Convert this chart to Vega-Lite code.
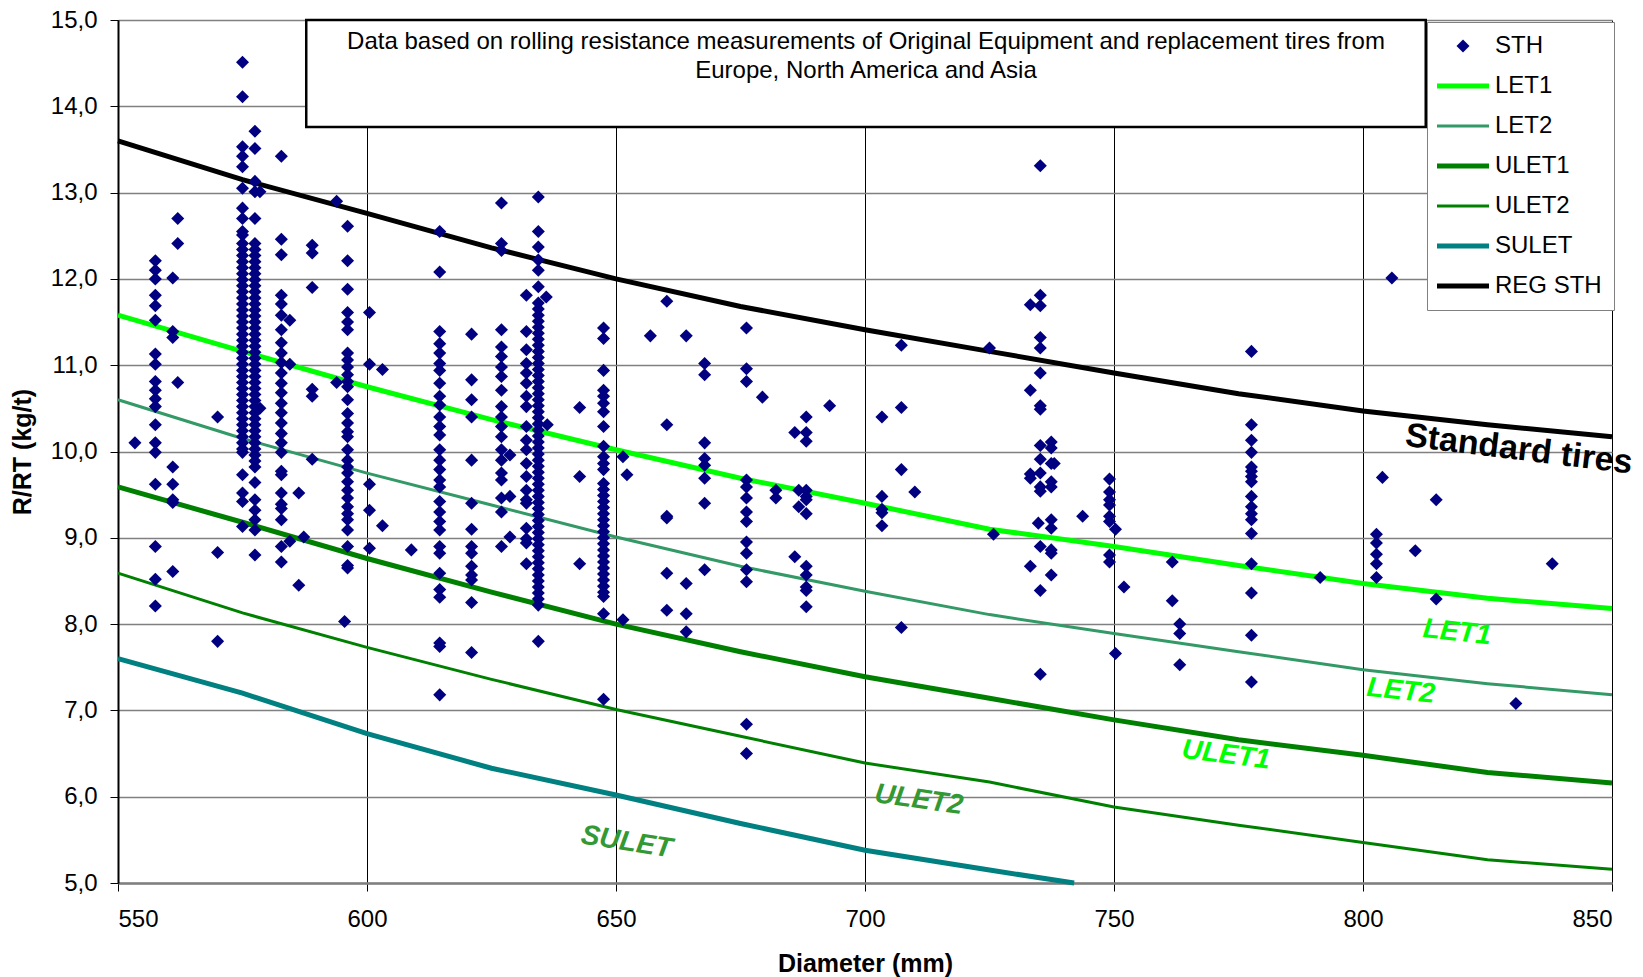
{
"$schema": "https://vega.github.io/schema/vega-lite/v6.json",
"width": 1494, "height": 863,
"autosize": {"type": "none"},
"padding": {"left": 118, "top": 20, "right": 31, "bottom": 94},
"background": "white",
"config": {"view": {"stroke": null}, "font": "Liberation Sans"},
"datasets": {
"pts": [
{"s":"STH","d":557.5,"v":12.21},{"s":"STH","d":557.5,"v":12.10},{"s":"STH","d":557.5,"v":12.00},{"s":"STH","d":557.5,"v":11.81},{"s":"STH","d":557.5,"v":11.69},{"s":"STH","d":557.5,"v":11.52},{"s":"STH","d":557.5,"v":11.13},{"s":"STH","d":557.5,"v":11.01},{"s":"STH","d":557.5,"v":10.81},{"s":"STH","d":557.5,"v":10.71},{"s":"STH","d":557.5,"v":10.61},{"s":"STH","d":557.5,"v":10.52},{"s":"STH","d":557.5,"v":10.31},{"s":"STH","d":557.5,"v":10.10},{"s":"STH","d":557.5,"v":9.99},{"s":"STH","d":557.5,"v":9.62},{"s":"STH","d":557.5,"v":8.90},{"s":"STH","d":557.5,"v":8.52},{"s":"STH","d":557.5,"v":8.21},
{"s":"STH","d":553.4,"v":10.10},
{"s":"STH","d":561,"v":12.01},{"s":"STH","d":561,"v":11.39},{"s":"STH","d":561,"v":11.32},{"s":"STH","d":561,"v":9.82},{"s":"STH","d":561,"v":9.62},{"s":"STH","d":561,"v":9.44},{"s":"STH","d":561,"v":9.41},{"s":"STH","d":561,"v":8.61},
{"s":"STH","d":562,"v":12.70},{"s":"STH","d":562,"v":12.41},{"s":"STH","d":562,"v":10.80},
{"s":"STH","d":570,"v":10.40},{"s":"STH","d":570,"v":8.83},{"s":"STH","d":570,"v":7.80},
{"s":"STH","d":575,"v":14.51},{"s":"STH","d":575,"v":14.11},{"s":"STH","d":575,"v":13.53},{"s":"STH","d":575,"v":13.42},{"s":"STH","d":575,"v":13.30},{"s":"STH","d":575,"v":13.05},{"s":"STH","d":575,"v":12.82},{"s":"STH","d":575,"v":12.70},{"s":"STH","d":575,"v":12.55},{"s":"STH","d":575,"v":12.51},{"s":"STH","d":575,"v":12.41},{"s":"STH","d":575,"v":12.34},{"s":"STH","d":575,"v":12.27},{"s":"STH","d":575,"v":12.20},{"s":"STH","d":575,"v":12.13},{"s":"STH","d":575,"v":12.06},{"s":"STH","d":575,"v":11.99},{"s":"STH","d":575,"v":11.92},{"s":"STH","d":575,"v":11.85},{"s":"STH","d":575,"v":11.78},{"s":"STH","d":575,"v":11.71},{"s":"STH","d":575,"v":11.64},{"s":"STH","d":575,"v":11.57},{"s":"STH","d":575,"v":11.50},{"s":"STH","d":575,"v":11.43},{"s":"STH","d":575,"v":11.36},{"s":"STH","d":575,"v":11.29},{"s":"STH","d":575,"v":11.22},{"s":"STH","d":575,"v":11.15},{"s":"STH","d":575,"v":11.08},{"s":"STH","d":575,"v":11.01},{"s":"STH","d":575,"v":10.94},{"s":"STH","d":575,"v":10.87},{"s":"STH","d":575,"v":10.80},{"s":"STH","d":575,"v":10.73},{"s":"STH","d":575,"v":10.66},{"s":"STH","d":575,"v":10.59},{"s":"STH","d":575,"v":10.52},{"s":"STH","d":575,"v":10.45},{"s":"STH","d":575,"v":10.38},{"s":"STH","d":575,"v":10.31},{"s":"STH","d":575,"v":10.24},{"s":"STH","d":575,"v":10.17},{"s":"STH","d":575,"v":10.10},{"s":"STH","d":575,"v":10.03},{"s":"STH","d":575,"v":9.99},{"s":"STH","d":575,"v":9.73},{"s":"STH","d":575,"v":9.52},{"s":"STH","d":575,"v":9.42},{"s":"STH","d":575,"v":9.13},
{"s":"STH","d":577.5,"v":13.71},{"s":"STH","d":577.5,"v":13.51},{"s":"STH","d":577.5,"v":13.13},{"s":"STH","d":577.5,"v":13.01},{"s":"STH","d":577.5,"v":12.70},{"s":"STH","d":577.5,"v":12.41},{"s":"STH","d":577.5,"v":12.34},{"s":"STH","d":577.5,"v":12.27},{"s":"STH","d":577.5,"v":12.20},{"s":"STH","d":577.5,"v":12.13},{"s":"STH","d":577.5,"v":12.06},{"s":"STH","d":577.5,"v":11.99},{"s":"STH","d":577.5,"v":11.92},{"s":"STH","d":577.5,"v":11.85},{"s":"STH","d":577.5,"v":11.78},{"s":"STH","d":577.5,"v":11.71},{"s":"STH","d":577.5,"v":11.64},{"s":"STH","d":577.5,"v":11.57},{"s":"STH","d":577.5,"v":11.50},{"s":"STH","d":577.5,"v":11.43},{"s":"STH","d":577.5,"v":11.36},{"s":"STH","d":577.5,"v":11.29},{"s":"STH","d":577.5,"v":11.22},{"s":"STH","d":577.5,"v":11.15},{"s":"STH","d":577.5,"v":11.08},{"s":"STH","d":577.5,"v":11.01},{"s":"STH","d":577.5,"v":10.94},{"s":"STH","d":577.5,"v":10.87},{"s":"STH","d":577.5,"v":10.80},{"s":"STH","d":577.5,"v":10.73},{"s":"STH","d":577.5,"v":10.66},{"s":"STH","d":577.5,"v":10.59},{"s":"STH","d":577.5,"v":10.52},{"s":"STH","d":577.5,"v":10.45},{"s":"STH","d":577.5,"v":10.38},{"s":"STH","d":577.5,"v":10.31},{"s":"STH","d":577.5,"v":10.24},{"s":"STH","d":577.5,"v":10.17},{"s":"STH","d":577.5,"v":10.10},{"s":"STH","d":577.5,"v":10.03},{"s":"STH","d":577.5,"v":9.96},{"s":"STH","d":577.5,"v":9.89},{"s":"STH","d":577.5,"v":9.82},{"s":"STH","d":577.5,"v":9.64},{"s":"STH","d":577.5,"v":9.44},{"s":"STH","d":577.5,"v":9.32},{"s":"STH","d":577.5,"v":9.21},{"s":"STH","d":577.5,"v":9.09},{"s":"STH","d":577.5,"v":8.80},
{"s":"STH","d":578.5,"v":13.01},{"s":"STH","d":578.5,"v":10.50},
{"s":"STH","d":582.8,"v":13.42},{"s":"STH","d":582.8,"v":12.46},{"s":"STH","d":582.8,"v":12.28},{"s":"STH","d":582.8,"v":11.81},{"s":"STH","d":582.8,"v":11.71},{"s":"STH","d":582.8,"v":11.58},{"s":"STH","d":582.8,"v":11.41},{"s":"STH","d":582.8,"v":11.26},{"s":"STH","d":582.8,"v":11.14},{"s":"STH","d":582.8,"v":11.03},{"s":"STH","d":582.8,"v":10.91},{"s":"STH","d":582.8,"v":10.79},{"s":"STH","d":582.8,"v":10.68},{"s":"STH","d":582.8,"v":10.56},{"s":"STH","d":582.8,"v":10.45},{"s":"STH","d":582.8,"v":10.33},{"s":"STH","d":582.8,"v":10.21},{"s":"STH","d":582.8,"v":10.10},{"s":"STH","d":582.8,"v":9.99},{"s":"STH","d":582.8,"v":9.77},{"s":"STH","d":582.8,"v":9.73},{"s":"STH","d":582.8,"v":9.52},{"s":"STH","d":582.8,"v":9.39},{"s":"STH","d":582.8,"v":9.34},{"s":"STH","d":582.8,"v":9.21},{"s":"STH","d":582.8,"v":8.90},{"s":"STH","d":582.8,"v":8.72},
{"s":"STH","d":584.5,"v":11.52},{"s":"STH","d":584.5,"v":11.01},{"s":"STH","d":584.5,"v":8.96},
{"s":"STH","d":586.3,"v":9.52},{"s":"STH","d":586.3,"v":8.45},{"s":"STH","d":587.3,"v":9.01},
{"s":"STH","d":589,"v":12.39},{"s":"STH","d":589,"v":12.30},{"s":"STH","d":589,"v":11.90},{"s":"STH","d":589,"v":10.72},{"s":"STH","d":589,"v":10.64},{"s":"STH","d":589,"v":9.91},
{"s":"STH","d":593.9,"v":12.90},{"s":"STH","d":593.9,"v":10.80},
{"s":"STH","d":596.1,"v":12.61},{"s":"STH","d":596.1,"v":12.21},{"s":"STH","d":596.1,"v":11.88},{"s":"STH","d":596.1,"v":11.61},{"s":"STH","d":596.1,"v":11.50},{"s":"STH","d":596.1,"v":11.41},{"s":"STH","d":596.1,"v":11.14},{"s":"STH","d":596.1,"v":11.06},{"s":"STH","d":596.1,"v":10.98},{"s":"STH","d":596.1,"v":10.89},{"s":"STH","d":596.1,"v":10.81},{"s":"STH","d":596.1,"v":10.75},{"s":"STH","d":596.1,"v":10.60},{"s":"STH","d":596.1,"v":10.44},{"s":"STH","d":596.1,"v":10.33},{"s":"STH","d":596.1,"v":10.23},{"s":"STH","d":596.1,"v":10.17},{"s":"STH","d":596.1,"v":10.02},{"s":"STH","d":596.1,"v":9.90},{"s":"STH","d":596.1,"v":9.82},{"s":"STH","d":596.1,"v":9.75},{"s":"STH","d":596.1,"v":9.65},{"s":"STH","d":596.1,"v":9.55},{"s":"STH","d":596.1,"v":9.46},{"s":"STH","d":596.1,"v":9.36},{"s":"STH","d":596.1,"v":9.28},{"s":"STH","d":596.1,"v":9.21},{"s":"STH","d":596.1,"v":9.09},{"s":"STH","d":596.1,"v":8.90},{"s":"STH","d":596.1,"v":8.68},{"s":"STH","d":596.1,"v":8.65},
{"s":"STH","d":595.5,"v":8.03},
{"s":"STH","d":600.5,"v":11.61},{"s":"STH","d":600.5,"v":11.01},{"s":"STH","d":600.5,"v":9.62},{"s":"STH","d":600.5,"v":9.32},{"s":"STH","d":600.5,"v":8.88},
{"s":"STH","d":603.1,"v":10.95},{"s":"STH","d":603.1,"v":9.14},{"s":"STH","d":608.9,"v":8.86},
{"s":"STH","d":614.6,"v":12.55},{"s":"STH","d":614.6,"v":12.08},{"s":"STH","d":614.6,"v":11.39},{"s":"STH","d":614.6,"v":11.25},{"s":"STH","d":614.6,"v":11.14},{"s":"STH","d":614.6,"v":11.02},{"s":"STH","d":614.6,"v":10.94},{"s":"STH","d":614.6,"v":10.79},{"s":"STH","d":614.6,"v":10.64},{"s":"STH","d":614.6,"v":10.54},{"s":"STH","d":614.6,"v":10.40},{"s":"STH","d":614.6,"v":10.29},{"s":"STH","d":614.6,"v":10.19},{"s":"STH","d":614.6,"v":10.02},{"s":"STH","d":614.6,"v":9.90},{"s":"STH","d":614.6,"v":9.79},{"s":"STH","d":614.6,"v":9.67},{"s":"STH","d":614.6,"v":9.59},{"s":"STH","d":614.6,"v":9.42},{"s":"STH","d":614.6,"v":9.30},{"s":"STH","d":614.6,"v":9.19},{"s":"STH","d":614.6,"v":9.09},{"s":"STH","d":614.6,"v":8.90},{"s":"STH","d":614.6,"v":8.82},{"s":"STH","d":614.6,"v":8.59},{"s":"STH","d":614.6,"v":8.40},{"s":"STH","d":614.6,"v":8.31},{"s":"STH","d":614.6,"v":7.78},{"s":"STH","d":614.6,"v":7.74},{"s":"STH","d":614.6,"v":7.18},
{"s":"STH","d":621,"v":11.36},{"s":"STH","d":621,"v":10.83},{"s":"STH","d":621,"v":10.60},{"s":"STH","d":621,"v":10.40},{"s":"STH","d":621,"v":9.90},{"s":"STH","d":621,"v":9.40},{"s":"STH","d":621,"v":9.10},{"s":"STH","d":621,"v":8.90},{"s":"STH","d":621,"v":8.82},{"s":"STH","d":621,"v":8.67},{"s":"STH","d":621,"v":8.57},{"s":"STH","d":621,"v":8.51},{"s":"STH","d":621,"v":8.25},{"s":"STH","d":621,"v":7.67},
{"s":"STH","d":627,"v":12.88},{"s":"STH","d":627,"v":12.41},{"s":"STH","d":627,"v":12.33},{"s":"STH","d":627,"v":11.41},{"s":"STH","d":627,"v":11.21},{"s":"STH","d":627,"v":11.10},{"s":"STH","d":627,"v":10.98},{"s":"STH","d":627,"v":10.87},{"s":"STH","d":627,"v":10.71},{"s":"STH","d":627,"v":10.52},{"s":"STH","d":627,"v":10.40},{"s":"STH","d":627,"v":10.29},{"s":"STH","d":627,"v":10.17},{"s":"STH","d":627,"v":10.02},{"s":"STH","d":627,"v":9.90},{"s":"STH","d":627,"v":9.75},{"s":"STH","d":627,"v":9.67},{"s":"STH","d":627,"v":9.46},{"s":"STH","d":627,"v":9.30},{"s":"STH","d":627,"v":8.90},
{"s":"STH","d":628.7,"v":9.96},{"s":"STH","d":628.7,"v":9.48},{"s":"STH","d":628.7,"v":9.01},
{"s":"STH","d":632,"v":11.81},{"s":"STH","d":632,"v":11.39},{"s":"STH","d":632,"v":11.18},{"s":"STH","d":632,"v":11.02},{"s":"STH","d":632,"v":10.91},{"s":"STH","d":632,"v":10.79},{"s":"STH","d":632,"v":10.64},{"s":"STH","d":632,"v":10.52},{"s":"STH","d":632,"v":10.29},{"s":"STH","d":632,"v":10.13},{"s":"STH","d":632,"v":10.02},{"s":"STH","d":632,"v":9.86},{"s":"STH","d":632,"v":9.71},{"s":"STH","d":632,"v":9.55},{"s":"STH","d":632,"v":9.44},{"s":"STH","d":632,"v":9.40},{"s":"STH","d":632,"v":9.11},{"s":"STH","d":632,"v":8.99},{"s":"STH","d":632,"v":8.94},{"s":"STH","d":632,"v":8.70},
{"s":"STH","d":634.4,"v":12.95},{"s":"STH","d":634.4,"v":12.55},{"s":"STH","d":634.4,"v":12.37},{"s":"STH","d":634.4,"v":12.22},{"s":"STH","d":634.4,"v":12.10},{"s":"STH","d":634.4,"v":11.91},{"s":"STH","d":634.4,"v":11.72},{"s":"STH","d":634.4,"v":11.65},{"s":"STH","d":634.4,"v":11.58},{"s":"STH","d":634.4,"v":11.51},{"s":"STH","d":634.4,"v":11.44},{"s":"STH","d":634.4,"v":11.37},{"s":"STH","d":634.4,"v":11.30},{"s":"STH","d":634.4,"v":11.23},{"s":"STH","d":634.4,"v":11.16},{"s":"STH","d":634.4,"v":11.09},{"s":"STH","d":634.4,"v":11.02},{"s":"STH","d":634.4,"v":10.95},{"s":"STH","d":634.4,"v":10.88},{"s":"STH","d":634.4,"v":10.81},{"s":"STH","d":634.4,"v":10.74},{"s":"STH","d":634.4,"v":10.67},{"s":"STH","d":634.4,"v":10.60},{"s":"STH","d":634.4,"v":10.53},{"s":"STH","d":634.4,"v":10.46},{"s":"STH","d":634.4,"v":10.39},{"s":"STH","d":634.4,"v":10.32},{"s":"STH","d":634.4,"v":10.25},{"s":"STH","d":634.4,"v":10.18},{"s":"STH","d":634.4,"v":10.11},{"s":"STH","d":634.4,"v":10.04},{"s":"STH","d":634.4,"v":9.97},{"s":"STH","d":634.4,"v":9.90},{"s":"STH","d":634.4,"v":9.83},{"s":"STH","d":634.4,"v":9.76},{"s":"STH","d":634.4,"v":9.69},{"s":"STH","d":634.4,"v":9.62},{"s":"STH","d":634.4,"v":9.55},{"s":"STH","d":634.4,"v":9.48},{"s":"STH","d":634.4,"v":9.41},{"s":"STH","d":634.4,"v":9.34},{"s":"STH","d":634.4,"v":9.27},{"s":"STH","d":634.4,"v":9.20},{"s":"STH","d":634.4,"v":9.13},{"s":"STH","d":634.4,"v":9.06},{"s":"STH","d":634.4,"v":8.99},{"s":"STH","d":634.4,"v":8.92},{"s":"STH","d":634.4,"v":8.85},{"s":"STH","d":634.4,"v":8.78},{"s":"STH","d":634.4,"v":8.71},{"s":"STH","d":634.4,"v":8.64},{"s":"STH","d":634.4,"v":8.57},{"s":"STH","d":634.4,"v":8.50},{"s":"STH","d":634.4,"v":8.43},{"s":"STH","d":634.4,"v":8.36},{"s":"STH","d":634.4,"v":8.29},{"s":"STH","d":634.4,"v":8.22},{"s":"STH","d":634.4,"v":7.80},
{"s":"STH","d":636,"v":11.79},{"s":"STH","d":636.2,"v":10.31},
{"s":"STH","d":642.7,"v":10.51},{"s":"STH","d":642.7,"v":9.71},{"s":"STH","d":642.7,"v":8.70},
{"s":"STH","d":647.5,"v":11.43},{"s":"STH","d":647.5,"v":11.31},{"s":"STH","d":647.5,"v":10.94},{"s":"STH","d":647.5,"v":10.71},{"s":"STH","d":647.5,"v":10.64},{"s":"STH","d":647.5,"v":10.56},{"s":"STH","d":647.5,"v":10.46},{"s":"STH","d":647.5,"v":10.29},{"s":"STH","d":647.5,"v":10.06},{"s":"STH","d":647.5,"v":9.94},{"s":"STH","d":647.5,"v":9.86},{"s":"STH","d":647.5,"v":9.79},{"s":"STH","d":647.5,"v":9.63},{"s":"STH","d":647.5,"v":9.56},{"s":"STH","d":647.5,"v":9.49},{"s":"STH","d":647.5,"v":9.42},{"s":"STH","d":647.5,"v":9.35},{"s":"STH","d":647.5,"v":9.28},{"s":"STH","d":647.5,"v":9.21},{"s":"STH","d":647.5,"v":9.14},{"s":"STH","d":647.5,"v":9.07},{"s":"STH","d":647.5,"v":9.00},{"s":"STH","d":647.5,"v":8.93},{"s":"STH","d":647.5,"v":8.86},{"s":"STH","d":647.5,"v":8.79},{"s":"STH","d":647.5,"v":8.72},{"s":"STH","d":647.5,"v":8.65},{"s":"STH","d":647.5,"v":8.58},{"s":"STH","d":647.5,"v":8.51},{"s":"STH","d":647.5,"v":8.44},{"s":"STH","d":647.5,"v":8.37},{"s":"STH","d":647.5,"v":8.32},{"s":"STH","d":647.5,"v":8.12},{"s":"STH","d":647.5,"v":7.13},
{"s":"STH","d":651.4,"v":9.94},{"s":"STH","d":651.4,"v":8.05},{"s":"STH","d":652.2,"v":9.73},{"s":"STH","d":656.9,"v":11.34},
{"s":"STH","d":660.2,"v":11.74},{"s":"STH","d":660.2,"v":10.31},{"s":"STH","d":660.2,"v":9.23},{"s":"STH","d":660.2,"v":9.25},{"s":"STH","d":660.2,"v":8.59},{"s":"STH","d":660.2,"v":8.16},
{"s":"STH","d":664.1,"v":11.34},{"s":"STH","d":664.1,"v":8.47},{"s":"STH","d":664.1,"v":8.12},{"s":"STH","d":664.1,"v":7.91},
{"s":"STH","d":667.8,"v":11.02},{"s":"STH","d":667.8,"v":10.89},{"s":"STH","d":667.8,"v":10.10},{"s":"STH","d":667.8,"v":9.92},{"s":"STH","d":667.8,"v":9.84},{"s":"STH","d":667.8,"v":9.69},{"s":"STH","d":667.8,"v":9.40},{"s":"STH","d":667.8,"v":8.63},
{"s":"STH","d":676.2,"v":11.43},{"s":"STH","d":676.2,"v":10.96},{"s":"STH","d":676.2,"v":10.81},{"s":"STH","d":676.2,"v":9.67},{"s":"STH","d":676.2,"v":9.59},{"s":"STH","d":676.2,"v":9.46},{"s":"STH","d":676.2,"v":9.30},{"s":"STH","d":676.2,"v":9.19},{"s":"STH","d":676.2,"v":8.95},{"s":"STH","d":676.2,"v":8.82},{"s":"STH","d":676.2,"v":8.63},{"s":"STH","d":676.2,"v":8.49},{"s":"STH","d":676.2,"v":6.84},{"s":"STH","d":676.2,"v":6.50},
{"s":"STH","d":679.4,"v":10.63},{"s":"STH","d":682.1,"v":9.55},{"s":"STH","d":682.1,"v":9.46},
{"s":"STH","d":685.9,"v":10.22},{"s":"STH","d":685.9,"v":8.78},{"s":"STH","d":686.7,"v":9.55},{"s":"STH","d":686.7,"v":9.36},
{"s":"STH","d":688.2,"v":10.40},{"s":"STH","d":688.2,"v":10.22},{"s":"STH","d":688.2,"v":10.12},{"s":"STH","d":688.2,"v":9.55},{"s":"STH","d":688.2,"v":9.48},{"s":"STH","d":688.2,"v":9.44},{"s":"STH","d":688.2,"v":9.28},{"s":"STH","d":688.2,"v":8.67},{"s":"STH","d":688.2,"v":8.57},{"s":"STH","d":688.2,"v":8.43},{"s":"STH","d":688.2,"v":8.39},{"s":"STH","d":688.2,"v":8.20},
{"s":"STH","d":692.9,"v":10.53},
{"s":"STH","d":703.4,"v":10.40},{"s":"STH","d":703.4,"v":9.48},{"s":"STH","d":703.4,"v":9.33},{"s":"STH","d":703.4,"v":9.29},{"s":"STH","d":703.4,"v":9.14},
{"s":"STH","d":707.3,"v":11.23},{"s":"STH","d":707.3,"v":10.51},{"s":"STH","d":707.3,"v":9.79},{"s":"STH","d":707.3,"v":7.96},
{"s":"STH","d":710,"v":9.53},{"s":"STH","d":725,"v":11.20},{"s":"STH","d":725.8,"v":9.04},
{"s":"STH","d":733.2,"v":11.70},{"s":"STH","d":733.2,"v":10.71},{"s":"STH","d":733.2,"v":9.74},{"s":"STH","d":733.2,"v":9.69},{"s":"STH","d":733.2,"v":8.67},
{"s":"STH","d":735.2,"v":13.31},{"s":"STH","d":735.2,"v":11.81},{"s":"STH","d":735.2,"v":11.69},{"s":"STH","d":735.2,"v":11.32},{"s":"STH","d":735.2,"v":11.20},{"s":"STH","d":735.2,"v":10.91},{"s":"STH","d":735.2,"v":10.53},{"s":"STH","d":735.2,"v":10.49},{"s":"STH","d":735.2,"v":10.07},{"s":"STH","d":735.2,"v":9.91},{"s":"STH","d":735.2,"v":9.75},{"s":"STH","d":735.2,"v":9.59},{"s":"STH","d":735.2,"v":9.54},{"s":"STH","d":735.2,"v":8.90},{"s":"STH","d":735.2,"v":8.39},{"s":"STH","d":735.2,"v":7.42},{"s":"STH","d":734.8,"v":9.17},
{"s":"STH","d":737.4,"v":10.11},{"s":"STH","d":737.4,"v":10.04},{"s":"STH","d":737.4,"v":9.86},{"s":"STH","d":737.4,"v":9.65},{"s":"STH","d":737.4,"v":9.59},{"s":"STH","d":737.4,"v":9.21},{"s":"STH","d":737.4,"v":9.11},{"s":"STH","d":737.4,"v":8.86},{"s":"STH","d":737.4,"v":8.82},{"s":"STH","d":737.4,"v":8.57},{"s":"STH","d":738,"v":9.86},
{"s":"STH","d":743.7,"v":9.25},
{"s":"STH","d":749.1,"v":9.68},{"s":"STH","d":749.1,"v":9.53},{"s":"STH","d":749.1,"v":9.44},{"s":"STH","d":749.1,"v":9.38},{"s":"STH","d":749.1,"v":9.25},{"s":"STH","d":749.1,"v":9.19},{"s":"STH","d":749.1,"v":8.80},{"s":"STH","d":749.1,"v":8.72},
{"s":"STH","d":750.3,"v":9.10},{"s":"STH","d":750.3,"v":7.66},{"s":"STH","d":752,"v":8.43},
{"s":"STH","d":761.7,"v":8.72},{"s":"STH","d":761.7,"v":8.27},{"s":"STH","d":763.2,"v":8.00},{"s":"STH","d":763.2,"v":7.89},{"s":"STH","d":763.2,"v":7.53},
{"s":"STH","d":777.6,"v":11.16},{"s":"STH","d":777.6,"v":10.31},{"s":"STH","d":777.6,"v":10.13},{"s":"STH","d":777.6,"v":9.99},{"s":"STH","d":777.6,"v":9.82},{"s":"STH","d":777.6,"v":9.77},{"s":"STH","d":777.6,"v":9.71},{"s":"STH","d":777.6,"v":9.65},{"s":"STH","d":777.6,"v":9.48},{"s":"STH","d":777.6,"v":9.36},{"s":"STH","d":777.6,"v":9.28},{"s":"STH","d":777.6,"v":9.21},{"s":"STH","d":777.6,"v":9.05},{"s":"STH","d":777.6,"v":8.70},{"s":"STH","d":777.6,"v":8.36},{"s":"STH","d":777.6,"v":7.87},{"s":"STH","d":777.6,"v":7.33},
{"s":"STH","d":791.4,"v":8.54},
{"s":"STH","d":802.7,"v":9.04},{"s":"STH","d":802.7,"v":8.94},{"s":"STH","d":802.7,"v":8.81},{"s":"STH","d":802.7,"v":8.70},{"s":"STH","d":802.7,"v":8.54},
{"s":"STH","d":803.9,"v":9.70},{"s":"STH","d":805.8,"v":12.01},{"s":"STH","d":810.5,"v":8.85},{"s":"STH","d":814.7,"v":9.44},{"s":"STH","d":814.7,"v":8.29},{"s":"STH","d":830.7,"v":7.08},{"s":"STH","d":838,"v":8.70}
],
"curves": [
{"s":"LET1","d":550,"v":11.58},{"s":"LET1","d":575,"v":11.16},{"s":"LET1","d":600,"v":10.75},{"s":"LET1","d":625,"v":10.37},{"s":"LET1","d":650,"v":10.02},{"s":"LET1","d":675,"v":9.69},{"s":"LET1","d":700,"v":9.40},{"s":"LET1","d":725,"v":9.10},{"s":"LET1","d":750,"v":8.90},{"s":"LET1","d":775,"v":8.68},{"s":"LET1","d":800,"v":8.47},{"s":"LET1","d":825,"v":8.30},{"s":"LET1","d":850,"v":8.18},
{"s":"LET2","d":550,"v":10.60},{"s":"LET2","d":575,"v":10.15},{"s":"LET2","d":600,"v":9.75},{"s":"LET2","d":625,"v":9.38},{"s":"LET2","d":650,"v":9.01},{"s":"LET2","d":675,"v":8.67},{"s":"LET2","d":700,"v":8.38},{"s":"LET2","d":725,"v":8.11},{"s":"LET2","d":750,"v":7.89},{"s":"LET2","d":775,"v":7.68},{"s":"LET2","d":800,"v":7.47},{"s":"LET2","d":825,"v":7.31},{"s":"LET2","d":850,"v":7.18},
{"s":"ULET1","d":550,"v":9.59},{"s":"ULET1","d":575,"v":9.18},{"s":"ULET1","d":600,"v":8.76},{"s":"ULET1","d":625,"v":8.37},{"s":"ULET1","d":650,"v":8.00},{"s":"ULET1","d":675,"v":7.68},{"s":"ULET1","d":700,"v":7.39},{"s":"ULET1","d":725,"v":7.14},{"s":"ULET1","d":750,"v":6.89},{"s":"ULET1","d":775,"v":6.66},{"s":"ULET1","d":800,"v":6.48},{"s":"ULET1","d":825,"v":6.28},{"s":"ULET1","d":850,"v":6.16},
{"s":"ULET2","d":550,"v":8.59},{"s":"ULET2","d":575,"v":8.13},{"s":"ULET2","d":600,"v":7.73},{"s":"ULET2","d":625,"v":7.36},{"s":"ULET2","d":650,"v":7.01},{"s":"ULET2","d":675,"v":6.70},{"s":"ULET2","d":700,"v":6.39},{"s":"ULET2","d":725,"v":6.17},{"s":"ULET2","d":750,"v":5.88},{"s":"ULET2","d":775,"v":5.67},{"s":"ULET2","d":800,"v":5.47},{"s":"ULET2","d":825,"v":5.27},{"s":"ULET2","d":850,"v":5.16},
{"s":"SULET","d":550,"v":7.60},{"s":"SULET","d":575,"v":7.20},{"s":"SULET","d":600,"v":6.73},{"s":"SULET","d":625,"v":6.33},{"s":"SULET","d":650,"v":6.02},{"s":"SULET","d":675,"v":5.69},{"s":"SULET","d":700,"v":5.38},{"s":"SULET","d":725,"v":5.15},{"s":"SULET","d":742,"v":5.0},
{"s":"REG STH","d":550,"v":13.60},{"s":"REG STH","d":575,"v":13.15},{"s":"REG STH","d":600,"v":12.76},{"s":"REG STH","d":625,"v":12.36},{"s":"REG STH","d":650,"v":12.00},{"s":"REG STH","d":675,"v":11.68},{"s":"REG STH","d":700,"v":11.41},{"s":"REG STH","d":725,"v":11.16},{"s":"REG STH","d":750,"v":10.91},{"s":"REG STH","d":775,"v":10.67},{"s":"REG STH","d":800,"v":10.47},{"s":"REG STH","d":825,"v":10.31},{"s":"REG STH","d":850,"v":10.17}
]
},
"layer": [
{
"data": {"name": "curves"},
"transform": [{"filter": "datum.s === 'LET2' || datum.s === 'ULET2'"}],
"mark": {"type": "line", "strokeWidth": 3},
"encoding": {
"x": {"field": "d", "type": "quantitative"},
"y": {"field": "v", "type": "quantitative"},
"color": {"field": "s", "type": "nominal"},
"detail": {"field": "s"}
}
},
{
"data": {"name": "curves"},
"transform": [{"filter": "datum.s !== 'LET2' && datum.s !== 'ULET2'"}],
"mark": {"type": "line", "strokeWidth": 5},
"encoding": {
"x": {"field": "d", "type": "quantitative"},
"y": {"field": "v", "type": "quantitative"},
"color": {"field": "s", "type": "nominal"},
"detail": {"field": "s"}
}
},
{
"data": {"name": "pts"},
"mark": {"type": "point", "shape": "diamond", "filled": true, "size": 170, "opacity": 1},
"encoding": {
"x": {"field": "d", "type": "quantitative",
  "scale": {"domain": [550, 850], "nice": false, "zero": false},
  "axis": {"values": [550, 600, 650, 700, 750, 800, 850], "title": "Diameter (mm)", "labelFont": "Liberation Sans", "labelFontSize": 24, "labelColor": "black", "labelPadding": 16, "tickSize": 8, "tickColor": "black", "domainColor": "#808080", "domainWidth": 2.5, "gridColor": "black", "gridWidth": 1, "gridOpacity": 1, "titleFont": "Liberation Sans", "titleFontSize": 25, "titleFontWeight": "bold", "titleColor": "black", "titlePadding": 20}},
"y": {"field": "v", "type": "quantitative",
  "scale": {"domain": [5, 15], "nice": false, "zero": false},
  "axis": {"values": [5, 6, 7, 8, 9, 10, 11, 12, 13, 14, 15], "labelExpr": "replace(format(datum.value, '.1f'), '.', ',')", "title": "R/RT (kg/t)", "labelFont": "Liberation Sans", "labelFontSize": 24, "labelColor": "black", "labelPadding": 13, "tickSize": 8, "tickColor": "black", "domainColor": "black", "domainWidth": 2, "gridColor": "#808080", "gridWidth": 1.5, "gridOpacity": 1, "titleFont": "Liberation Sans", "titleFontSize": 25, "titleFontWeight": "bold", "titleColor": "black", "titlePadding": 15}},
"color": {"field": "s", "type": "nominal",
  "scale": {"domain": ["STH", "LET1", "LET2", "ULET1", "ULET2", "SULET", "REG STH"], "range": ["#000080", "#00FF00", "#339966", "#008000", "#008000", "#008080", "#000000"]},
  "legend": {"orient": "none", "legendX": 1309, "legendY": 2, "title": null, "symbolType": "stroke", "symbolSize": 2704, "rowPadding": 16, "padding": 12, "symbolOffset": 12, "labelOffset": 20, "labelFont": "Liberation Sans", "labelFontSize": 24, "labelColor": "black", "strokeColor": "#808080", "fillColor": "white", "symbolOpacity": 1,
   "encode": {"symbols": {"update": {
     "shape": {"signal": "datum.value === 'STH' ? 'diamond' : 'stroke'"},
     "size": {"signal": "datum.value === 'STH' ? 170 : 2704"},
     "fill": {"signal": "datum.value === 'STH' ? '#000080' : 'transparent'"},
     "stroke": {"signal": "datum.value === 'STH' ? 'transparent' : scale('color', datum.value)"},
     "strokeWidth": {"signal": "datum.value === 'STH' ? 0 : ((datum.value === 'LET2' || datum.value === 'ULET2') ? 3 : 5)"},
     "opacity": {"value": 1}
   }}}}
}
}
},
{
"data": {"values": [{"x1": 587.8, "x2": 812.6, "y1": 13.76, "y2": 15.0}]},
"mark": {"type": "rect", "fill": "white", "stroke": "black", "strokeWidth": 2.5},
"encoding": {"x": {"field": "x1", "type": "quantitative"}, "x2": {"field": "x2"}, "y": {"field": "y1", "type": "quantitative"}, "y2": {"field": "y2"}}
},
{
"data": {"values": [{"t": "Data based on rolling resistance measurements of Original Equipment and replacement tires from", "d": 700.2, "v": 14.746}, {"t": "Europe, North America and Asia", "d": 700.2, "v": 14.407}]},
"mark": {"type": "text", "font": "Liberation Sans", "fontSize": 24, "color": "black", "align": "center", "baseline": "middle"},
"encoding": {"x": {"field": "d", "type": "quantitative"}, "y": {"field": "v", "type": "quantitative"}, "text": {"field": "t"}}
},
{
"data": {"values": [{"t": "Standard tires", "d": 831.3, "v": 10.02}]},
"mark": {"type": "text", "font": "Liberation Sans", "fontSize": 34, "fontWeight": "bold", "color": "black", "align": "center", "baseline": "middle", "angle": 7},
"encoding": {"x": {"field": "d", "type": "quantitative"}, "y": {"field": "v", "type": "quantitative"}, "text": {"field": "t"}}
},
{
"data": {"values": [{"t": "LET1", "d": 818.9, "v": 7.90}, {"t": "LET2", "d": 807.6, "v": 7.22}]},
"mark": {"type": "text", "font": "Liberation Sans", "fontSize": 28, "fontWeight": "bold", "fontStyle": "italic", "color": "#00FF00", "align": "center", "baseline": "middle", "angle": 6},
"encoding": {"x": {"field": "d", "type": "quantitative"}, "y": {"field": "v", "type": "quantitative"}, "text": {"field": "t"}}
},
{
"data": {"values": [{"t": "ULET1", "d": 772.5, "v": 6.48}]},
"mark": {"type": "text", "font": "Liberation Sans", "fontSize": 28, "fontWeight": "bold", "fontStyle": "italic", "color": "#00FF00", "align": "center", "baseline": "middle", "angle": 7},
"encoding": {"x": {"field": "d", "type": "quantitative"}, "y": {"field": "v", "type": "quantitative"}, "text": {"field": "t"}}
},
{
"data": {"values": [{"t": "ULET2", "d": 710.8, "v": 5.96}]},
"mark": {"type": "text", "font": "Liberation Sans", "fontSize": 28, "fontWeight": "bold", "fontStyle": "italic", "color": "#339933", "align": "center", "baseline": "middle", "angle": 8},
"encoding": {"x": {"field": "d", "type": "quantitative"}, "y": {"field": "v", "type": "quantitative"}, "text": {"field": "t"}}
},
{
"data": {"values": [{"t": "SULET", "d": 652.1, "v": 5.47}]},
"mark": {"type": "text", "font": "Liberation Sans", "fontSize": 28, "fontWeight": "bold", "fontStyle": "italic", "color": "#339933", "align": "center", "baseline": "middle", "angle": 9},
"encoding": {"x": {"field": "d", "type": "quantitative"}, "y": {"field": "v", "type": "quantitative"}, "text": {"field": "t"}}
}
]
}
